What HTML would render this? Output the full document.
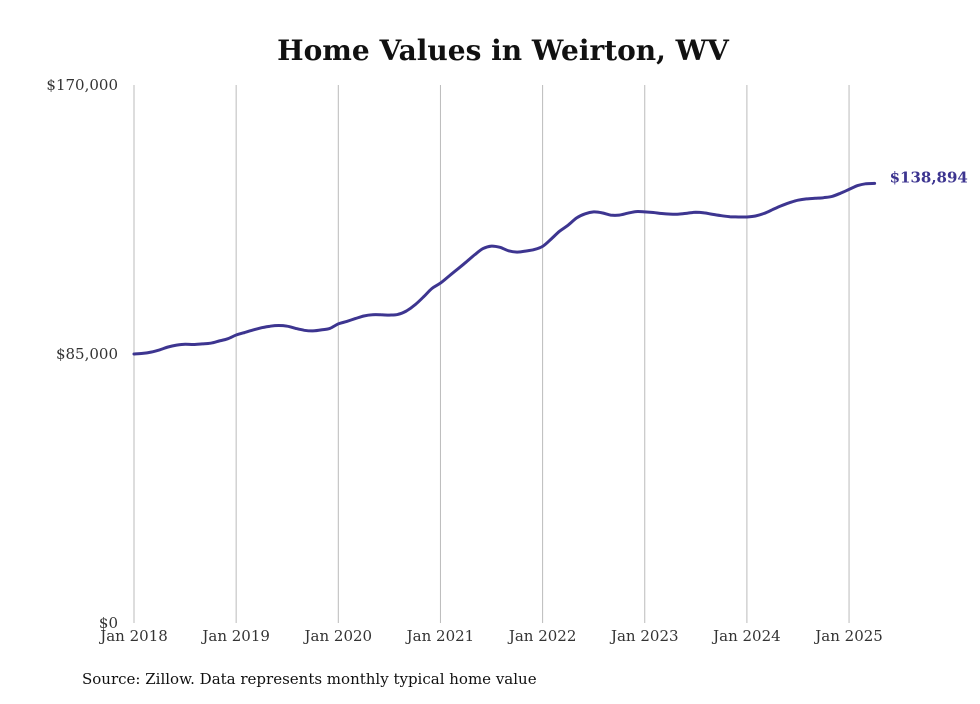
<!DOCTYPE html>
<html><head><meta charset="utf-8"><style>
body{margin:0;background:#fff;}
svg text{font-family:"DejaVu Serif","Liberation Serif",serif;}
</style></head><body>
<svg width="980" height="699" xmlns="http://www.w3.org/2000/svg">
<text x="503" y="60" text-anchor="middle" font-size="28" font-weight="bold" fill="#111" style="font-family:'DejaVu Serif',serif">Home Values in Weirton, WV</text>
<g id="grid"></g>
<g id="yticks"></g>
<g id="xticks"></g>
<path id="line" fill="none" stroke="#3d3590" stroke-width="3" stroke-linejoin="round" stroke-linecap="round"/>
<text id="endlabel" font-size="15" font-weight="bold" fill="#3d3590"></text>
<text x="82" y="684" font-size="15" fill="#111" style="font-family:'DejaVu Serif',serif">Source: Zillow. Data represents monthly typical home value</text>
</svg>
<script>
const values = [
85000,85200,85600,86300,87200,87800,88100,88000,88200,88400,89100,89800,
91000,91800,92600,93300,93800,94000,93800,93100,92500,92300,92600,93100,
94500,95300,96200,97000,97400,97400,97300,97500,98600,100500,103000,105700,
107400,109600,111800,114000,116300,118300,119100,118700,117600,117200,117500,118000,
119000,121300,123800,125700,128000,129300,129900,129600,128900,128900,129500,130000,
129900,129700,129400,129200,129200,129500,129800,129600,129100,128700,128400,128300,
128300,128600,129400,130600,131800,132800,133600,134000,134200,134400,134800,135800,
137000,138200,138800,138894];
const yTicks = [0,85000,170000];
const yTickLabels = ["$0","$85,000","$170,000"];
const xTickYears = [2018,2019,2020,2021,2022,2023,2024,2025];
const startYear = 2018;
const lastLabel = "$138,894";

const x0=134, pxPerYear=102.15, yBase=623, yTop=85, yMax=170000;
const xs = m => x0 + m*pxPerYear/12;
const ys = v => yBase - v/yMax*(yBase-yTop);
const NS="http://www.w3.org/2000/svg";
const grid=document.getElementById('grid'), xt=document.getElementById('xticks'), yt=document.getElementById('yticks');
xTickYears.forEach(yr=>{
  const x=xs((yr-startYear)*12);
  const l=document.createElementNS(NS,'line');
  
  
  l.setAttribute('x1',x);l.setAttribute('x2',x);l.setAttribute('y1',yTop);l.setAttribute('y2',yBase);
  l.setAttribute('stroke','#bbb');l.setAttribute('stroke-width','1');
  grid.appendChild(l);
  const t=document.createElementNS(NS,'text');
  
  
  t.setAttribute('x',x);t.setAttribute('y',641);t.setAttribute('text-anchor','middle');
  t.setAttribute('font-size','15');t.setAttribute('fill','#333');
  t.textContent='Jan '+yr; xt.appendChild(t);
});
yTicks.forEach((v,i)=>{
  const t=document.createElementNS(NS,'text');
  
  
  t.setAttribute('x',118);t.setAttribute('y',ys(v)+5);t.setAttribute('text-anchor','end');
  t.setAttribute('font-size','15');t.setAttribute('fill','#333');
  t.textContent=yTickLabels[i]; yt.appendChild(t);
});
// smooth path (Catmull-Rom)
const pts=values.map((v,i)=>[xs(i),ys(v)]);
let d='M'+pts[0][0].toFixed(1)+','+pts[0][1].toFixed(1);
for(let i=0;i<pts.length-1;i++){
  const p0=pts[Math.max(0,i-1)],p1=pts[i],p2=pts[i+1],p3=pts[Math.min(pts.length-1,i+2)];
  const c1=[p1[0]+(p2[0]-p0[0])/6,p1[1]+(p2[1]-p0[1])/6];
  const c2=[p2[0]-(p3[0]-p1[0])/6,p2[1]-(p3[1]-p1[1])/6];
  d+=' C'+c1.map(n=>n.toFixed(1)).join(',')+' '+c2.map(n=>n.toFixed(1)).join(',')+' '+p2.map(n=>n.toFixed(1)).join(',');
}
document.getElementById('line').setAttribute('d',d);
const el=document.getElementById('endlabel');
const lp=pts[pts.length-1];
el.setAttribute('x',lp[0]+15);el.setAttribute('y',lp[1]-1);
el.textContent=lastLabel;
</script>
</body></html>
